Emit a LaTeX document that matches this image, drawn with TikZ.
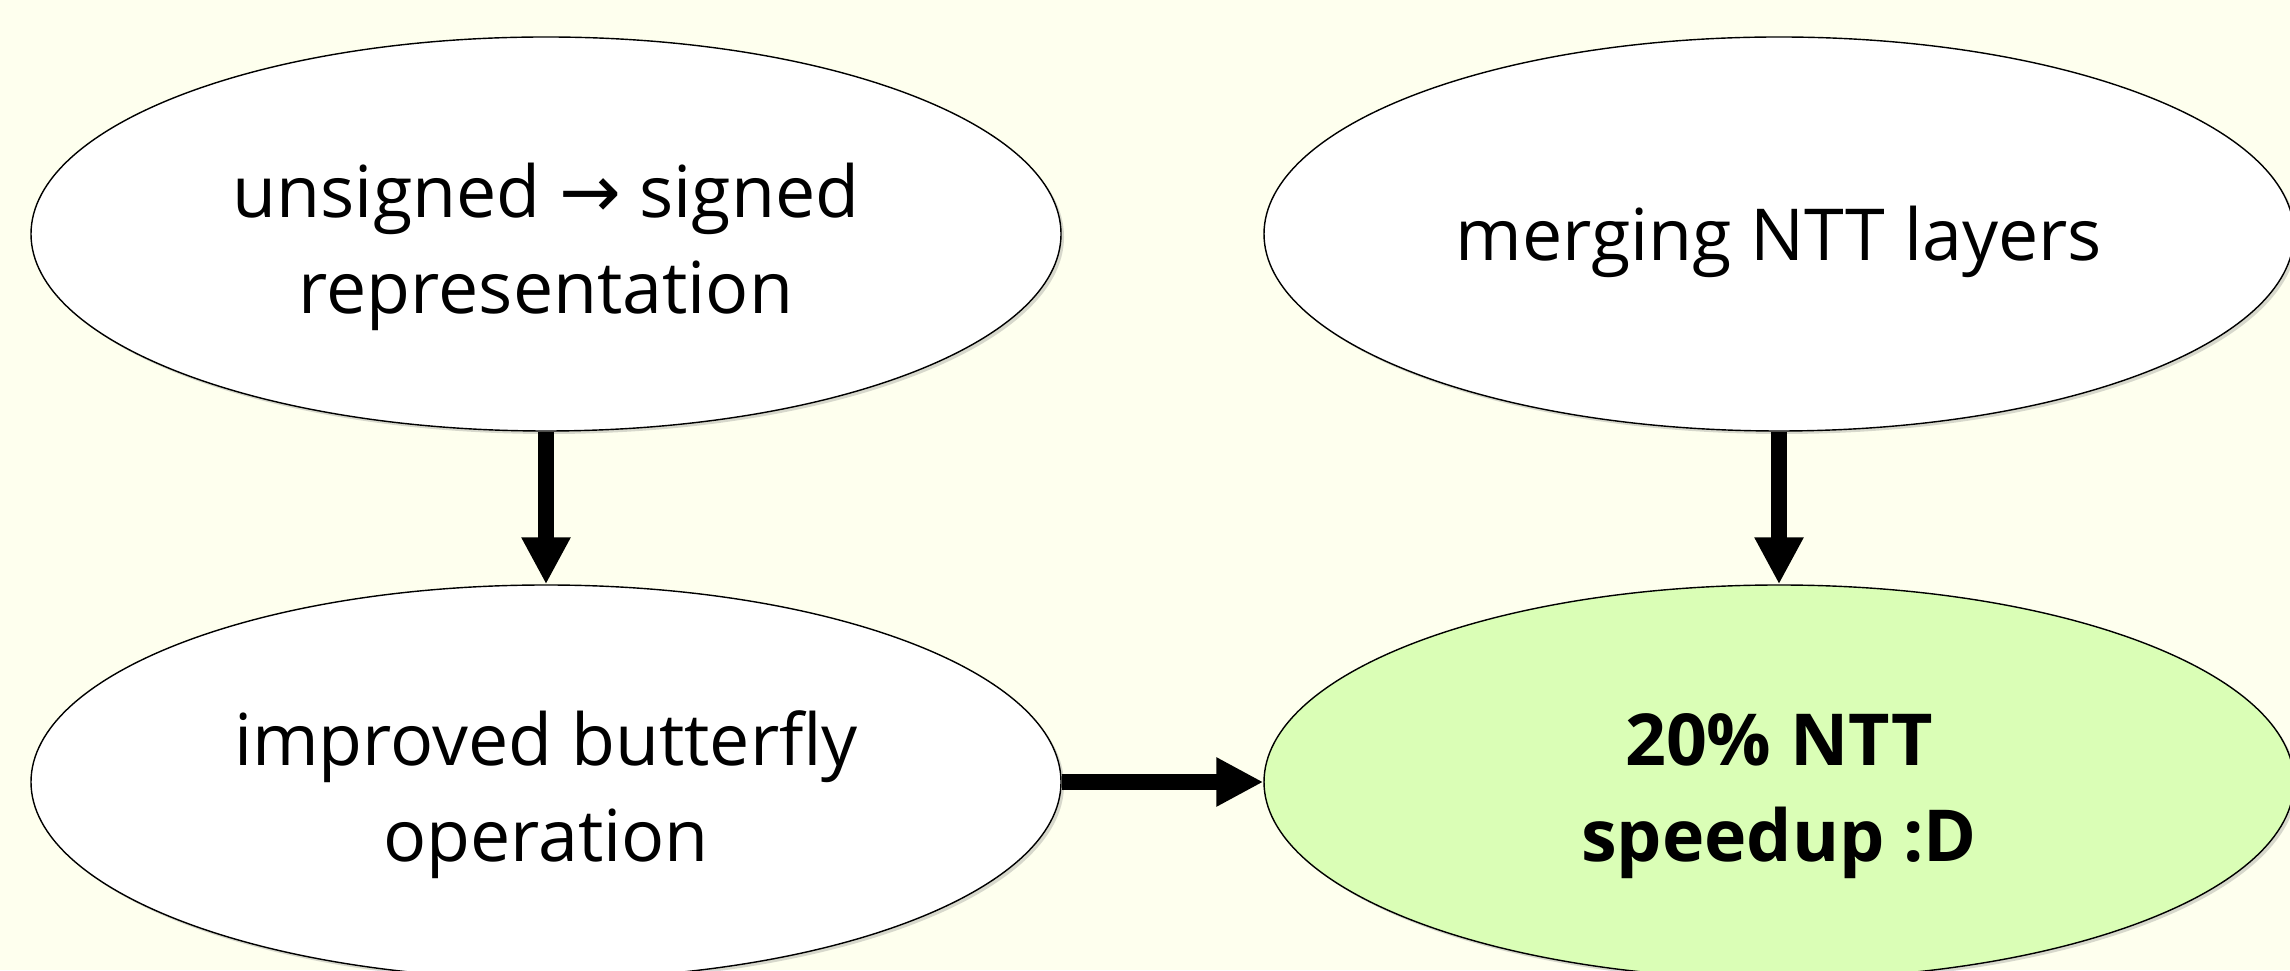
\documentclass[tikz,border=0pt]{standalone}
\usepackage{fontspec}
\setmainfont{Open Sans}
\newfontfamily\arrowfont{DejaVu Sans}
\usetikzlibrary{shapes.geometric, arrows.meta, shadows}
\definecolor{bgcream}{HTML}{FEFFEE}
\definecolor{goalgreen}{HTML}{DAFEB6}
\newcommand{\lift}{\rule{0pt}{0.8cm}}
\begin{document}
\begin{tikzpicture}[every node/.style={font=\fontsize{20.4}{27.5}\selectfont, align=center},
  idea/.style={draw, ellipse, line width=0.4pt, fill=white, minimum width=10.3cm, minimum height=3.94cm,
    drop shadow={shadow xshift=0.03cm, shadow yshift=-0.03cm, opacity=0.3}},
  fat/.style={-{Triangle[length=0.47cm, width=0.46cm]}, line width=0.16cm}]
\fill[bgcream] (0,0) rectangle (22.9,9.7);
\useasboundingbox (0,0) rectangle (22.9,9.7);
\clip (0,0) rectangle (22.9,9.7);
\node[idea] (unsigned) at (5.46,7.36) {\lift unsigned {\arrowfont\fontsize{21}{28}\selectfont →} signed\\representation};
\node[idea] (butterfly) at (5.46,1.88) {\lift improved butterfly\\operation};
\node[idea] (merging) at (17.79,7.36) {\rule{0pt}{0.7cm}merging NTT layers};
\node[idea, fill=goalgreen, font=\fontsize{20.4}{27.5}\selectfont\bfseries] (speedup) at (17.79,1.88) {\lift 20\% NTT\\speedup :D};
\draw[fat] (unsigned) -- (butterfly);
\draw[fat] (merging) -- (speedup);
\draw[fat] (butterfly) -- (speedup);
\end{tikzpicture}
\end{document}
